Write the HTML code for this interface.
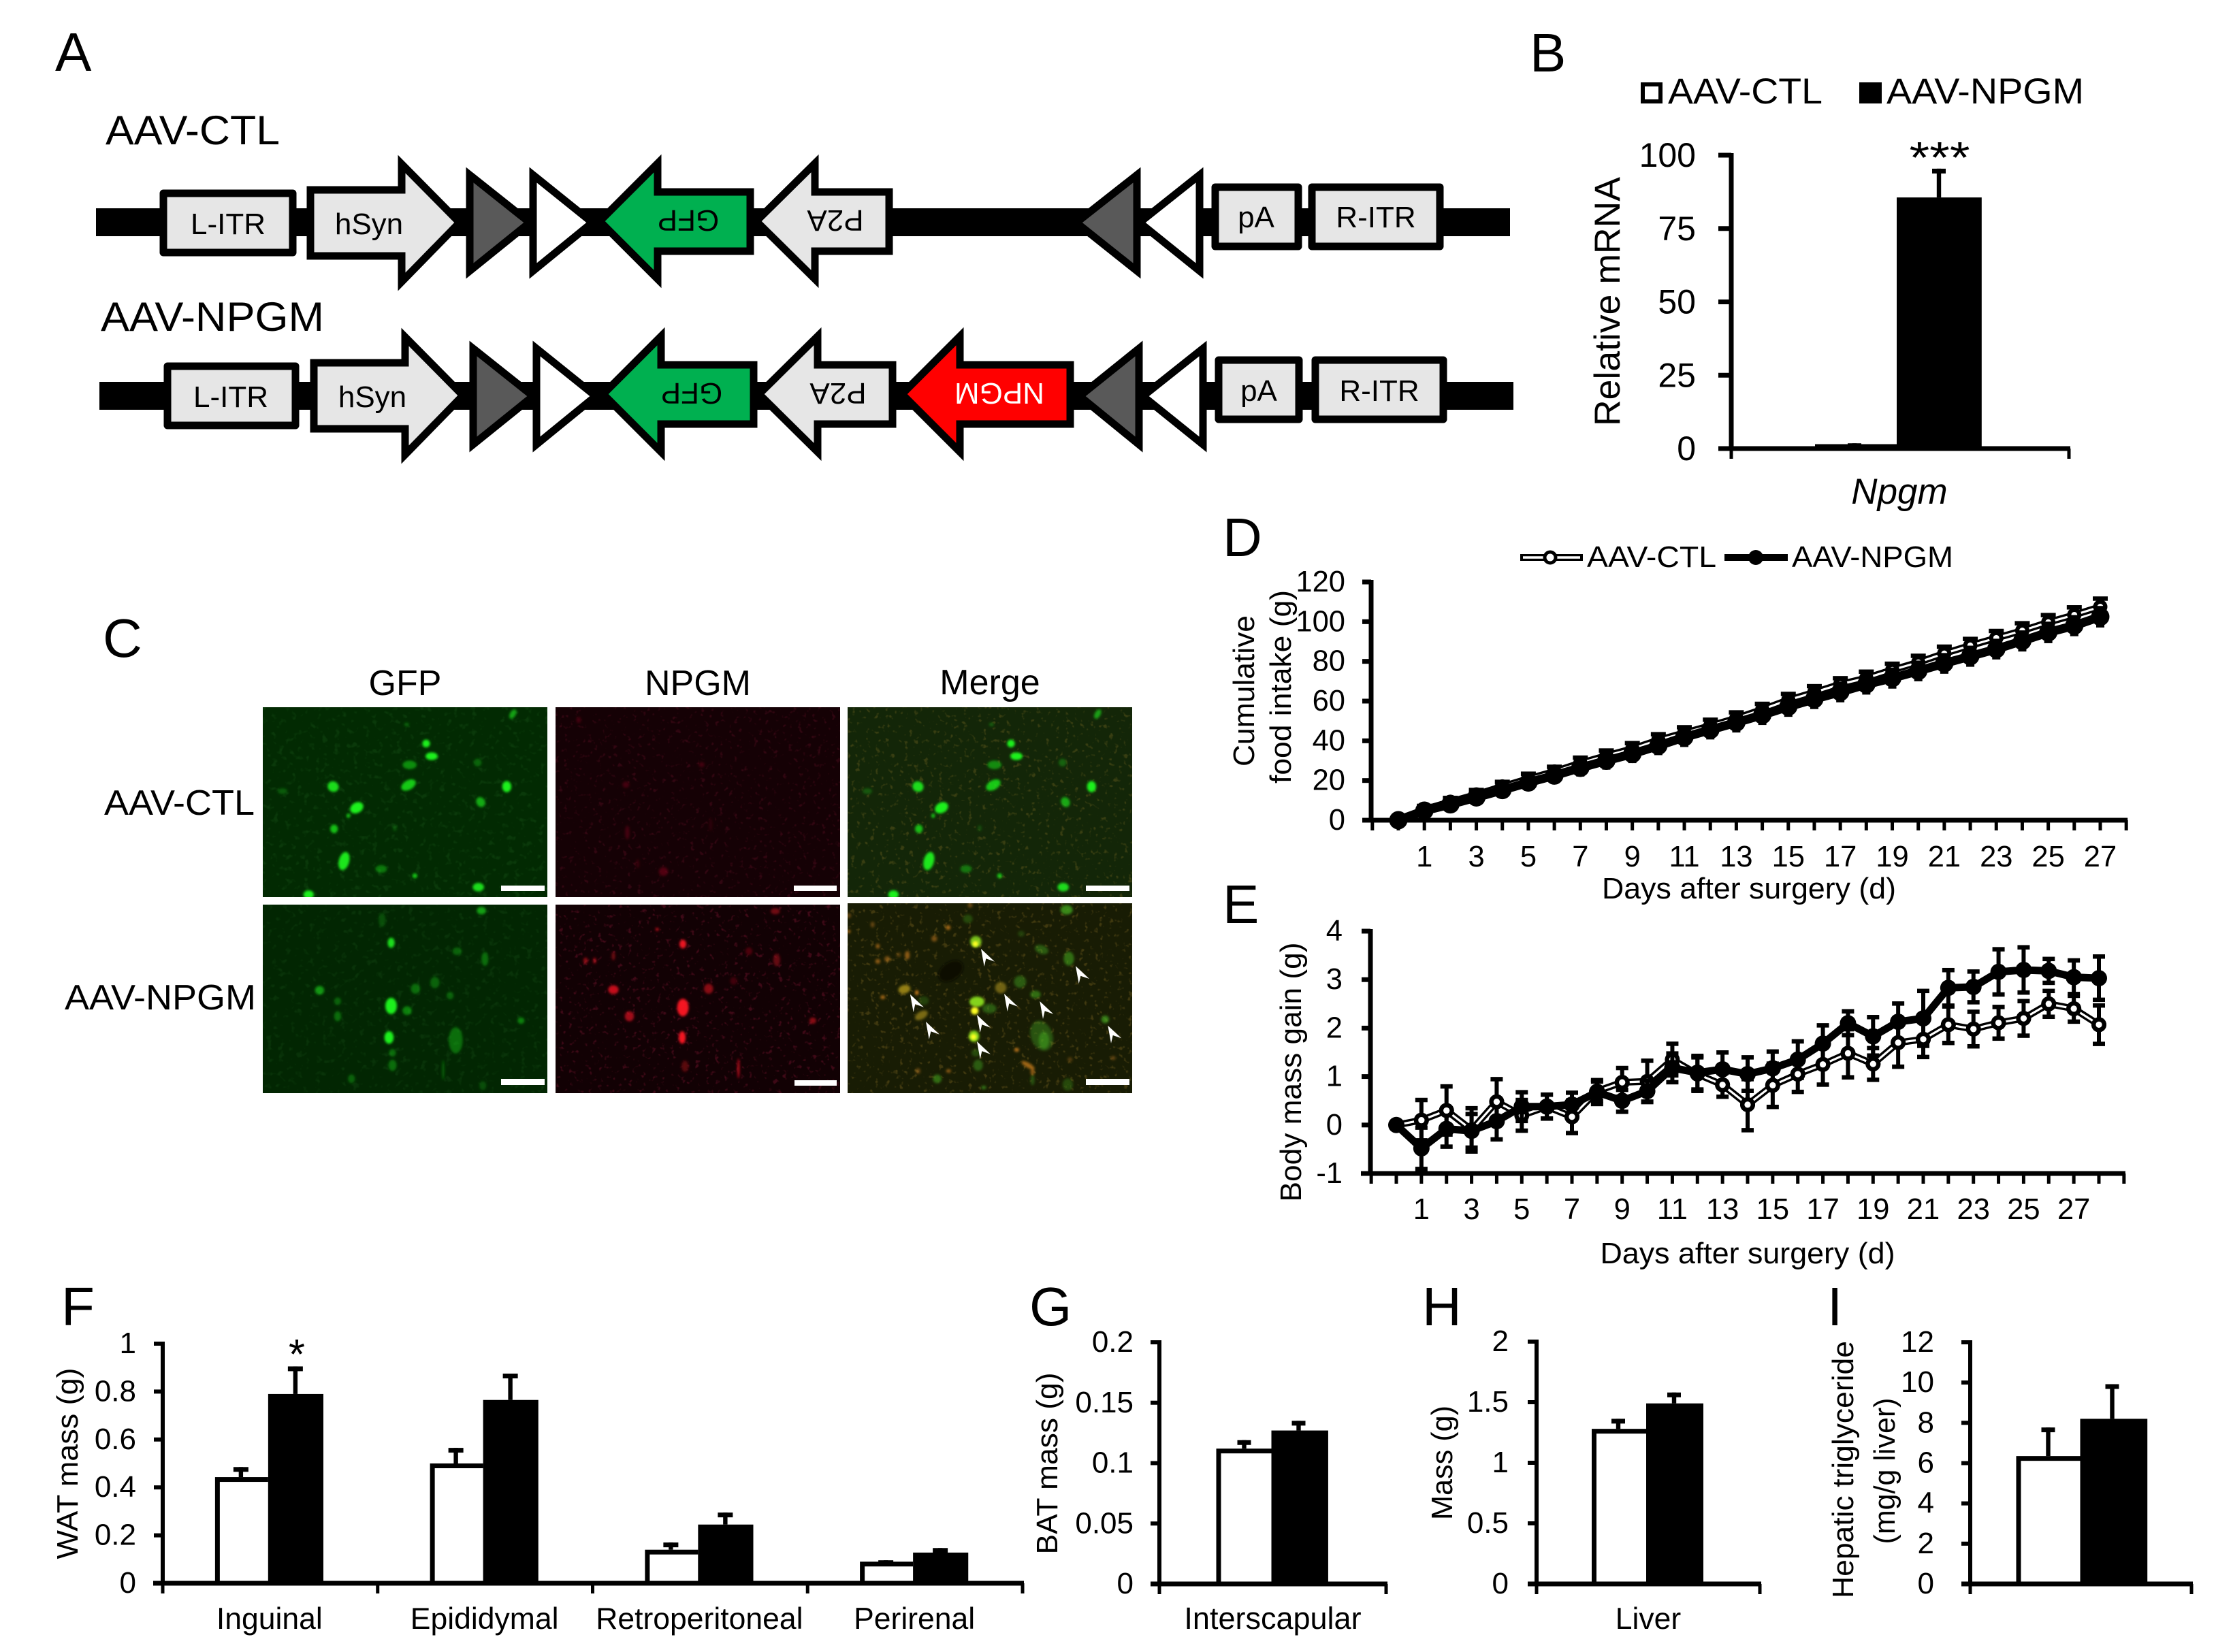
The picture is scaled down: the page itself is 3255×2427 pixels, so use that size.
<!DOCTYPE html>
<html lang="en">
<head>
<meta charset="utf-8">
<title>AAV-NPGM figure</title>
<style>
html,body{margin:0;padding:0;background:#fff;width:3255px;height:2427px;overflow:hidden}
svg{display:block}
text{font-family:"Liberation Sans",Arial,sans-serif;fill:#000}
.letter{font-size:80px}
.box{fill:#e6e6e6;stroke:#000;stroke-width:11;stroke-linejoin:round}
.shape{stroke:#000;stroke-width:11;stroke-linejoin:miter;stroke-miterlimit:12}
.gene{font-size:44px;text-anchor:middle}
</style>
</head>
<body>
<svg id="fig" xmlns="http://www.w3.org/2000/svg" width="3255" height="2427" viewBox="0 0 3255 2427">
<defs>
  <filter id="soft" x="-60%" y="-60%" width="220%" height="220%"><feGaussianBlur stdDeviation="1.8"/></filter>
  <filter id="specks-orange" x="0" y="0" width="100%" height="100%"><feTurbulence type="fractalNoise" baseFrequency="0.14" numOctaves="2" seed="3"/><feColorMatrix values="0 0 0 0 .75  0 0 0 0 .42  0 0 0 0 .05  6 0 0 0 -3.7"/></filter>
  <filter id="specks-red" x="0" y="0" width="100%" height="100%"><feTurbulence type="fractalNoise" baseFrequency="0.14" numOctaves="2" seed="7"/><feColorMatrix values="0 0 0 0 .7  0 0 0 0 .02  0 0 0 0 .1  6 0 0 0 -3.7"/></filter>
  <filter id="specks-green" x="0" y="0" width="100%" height="100%"><feTurbulence type="fractalNoise" baseFrequency="0.11" numOctaves="2" seed="11"/><feColorMatrix values="0 0 0 0 .1  0 0 0 0 .6  0 0 0 0 .1  5 0 0 0 -2.9"/></filter>
</defs>

<!-- panel letters -->
<g>
  <text class="letter" x="81" y="104">A</text>
  <text class="letter" x="2247" y="105">B</text>
  <text class="letter" x="151" y="965">C</text>
  <text class="letter" x="1796" y="817">D</text>
  <text class="letter" x="1796" y="1356">E</text>
  <text class="letter" x="90" y="1947">F</text>
  <text class="letter" x="1512" y="1947">G</text>
  <text class="letter" x="2089" y="1947">H</text>
  <text class="letter" x="2684" y="1947">I</text>
</g>

<!-- panel A -->
<g>
  <text x="155" y="212" font-size="60" textLength="256" lengthAdjust="spacingAndGlyphs">AAV-CTL</text>
  <rect x="141" y="306" width="2077" height="41" fill="#000"/>
  <rect class="box" x="240" y="284" width="190" height="87"/>
  <text class="gene" x="335" y="344">L-ITR</text>
  <polygon class="shape" fill="#e6e6e6" points="456,279 590,279 590,241 675,327 590,414 590,376 456,376"/>
  <text class="gene" x="542" y="344">hSyn</text>
  <polygon class="shape" fill="#595959" points="690,257 778,327 690,398"/>
  <polygon class="shape" fill="#fff" points="783,257 870,327 783,398"/>
  <polygon class="shape" fill="#00b050" points="881,325 966,240 966,282 1102,282 1102,369 966,369 966,410"/>
  <text class="gene" x="1011" y="339" transform="rotate(180 1011 324)">GFP</text>
  <polygon class="shape" fill="#e6e6e6" points="1111,325 1197,240 1197,282 1306,282 1306,369 1197,369 1197,410"/>
  <text class="gene" x="1227" y="339" transform="rotate(180 1227 324)">P2A</text>
  <polygon class="shape" fill="#595959" points="1670,257 1581,327 1670,398"/>
  <polygon class="shape" fill="#fff" points="1762,257 1674,327 1762,398"/>
  <rect class="box" x="1785" y="275" width="122" height="87"/>
  <text class="gene" x="1845" y="334">pA</text>
  <rect class="box" x="1927" y="275" width="188" height="87"/>
  <text class="gene" x="2021" y="334">R-ITR</text>
</g>
<g>
  <text x="148" y="486" font-size="60" textLength="328" lengthAdjust="spacingAndGlyphs">AAV-NPGM</text>
  <rect x="146" y="561" width="2077" height="41" fill="#000"/>
  <rect class="box" x="246" y="538" width="188" height="87"/>
  <text class="gene" x="339" y="598">L-ITR</text>
  <polygon class="shape" fill="#e6e6e6" points="461,533 595,533 595,495 680,581 595,668 595,630 461,630"/>
  <text class="gene" x="547" y="598">hSyn</text>
  <polygon class="shape" fill="#595959" points="695,512 783,582 695,653"/>
  <polygon class="shape" fill="#fff" points="788,512 875,582 788,653"/>
  <polygon class="shape" fill="#00b050" points="886,579 971,494 971,536 1107,536 1107,623 971,623 971,664"/>
  <text class="gene" x="1016" y="593" transform="rotate(180 1016 578)">GFP</text>
  <polygon class="shape" fill="#e6e6e6" points="1115,579 1201,494 1201,536 1311,536 1311,623 1201,623 1201,664"/>
  <text class="gene" x="1231" y="593" transform="rotate(180 1231 578)">P2A</text>
  <polygon class="shape" fill="#ff0000" points="1325,579 1410,494 1410,536 1572,536 1572,623 1410,623 1410,664"/>
  <text class="gene" style="fill:#fff" x="1468" y="593" transform="rotate(180 1468 578)">NPGM</text>
  <polygon class="shape" fill="#595959" points="1673,512 1586,582 1673,653"/>
  <polygon class="shape" fill="#fff" points="1767,512 1679,582 1767,653"/>
  <rect class="box" x="1790" y="529" width="118" height="87"/>
  <text class="gene" x="1849" y="589">pA</text>
  <rect class="box" x="1932" y="529" width="188" height="87"/>
  <text class="gene" x="2026" y="589">R-ITR</text>
</g>

<!-- panel C -->
<g id="panelC">
  <text x="595" y="1021" font-size="52" text-anchor="middle">GFP</text>
  <text x="1025" y="1021" font-size="52" text-anchor="middle">NPGM</text>
  <text x="1454" y="1020" font-size="52" text-anchor="middle">Merge</text>
  <text x="153" y="1197" font-size="52" textLength="221" lengthAdjust="spacingAndGlyphs">AAV-CTL</text>
  <text x="95" y="1483" font-size="52" textLength="281" lengthAdjust="spacingAndGlyphs">AAV-NPGM</text>
</g>

<!-- panel B -->
<g id="panelB">
  <rect x="2413" y="124" width="26" height="25" fill="#fff" stroke="#000" stroke-width="6"/>
  <text x="2450" y="152" font-size="53" textLength="227" lengthAdjust="spacingAndGlyphs">AAV-CTL</text>
  <rect x="2731" y="121" width="33" height="31" fill="#000"/>
  <text x="2771" y="152" font-size="53" textLength="290" lengthAdjust="spacingAndGlyphs">AAV-NPGM</text>
</g>

<!-- panel D -->
<g id="panelD">
  <line x1="2233" y1="819" x2="2325" y2="819" stroke="#000" stroke-width="10"/>
  <line x1="2237" y1="819" x2="2321" y2="819" stroke="#fff" stroke-width="3.5"/>
  <circle cx="2277" cy="819" r="8" fill="#fff" stroke="#000" stroke-width="5"/>
  <text x="2331" y="833" font-size="44" textLength="190" lengthAdjust="spacingAndGlyphs">AAV-CTL</text>
  <line x1="2533" y1="819" x2="2626" y2="819" stroke="#000" stroke-width="10"/>
  <circle cx="2579" cy="819" r="11" fill="#000"/>
  <text x="2632" y="833" font-size="44" textLength="237" lengthAdjust="spacingAndGlyphs">AAV-NPGM</text>
</g>
<g id="panelE"></g>
<g id="panelF"></g>
<g id="panelG"></g>
<g id="panelH"></g>
<g id="panelI"></g>
</svg>

<script>
/* ---------- chart data ---------- */
const bCategories = ['Npgm'];
const bTicks = [0, 25, 50, 75, 100];
const bCtl = [1.5];
const bCtlErr = [0.3];
const bNpgm = [85.6];
const bNpgmErr = [9.8];

const dDays = [0,1,2,3,4,5,6,7,8,9,10,11,12,13,14,15,16,17,18,19,20,21,22,23,24,25,26,27];
const dTicks = [0,20,40,60,80,100,120];
const dTickLabels = [1,3,5,7,9,11,13,15,17,19,21,23,25,27];
const dCtl = [0,5.5,9.3,13,17,20.9,24.5,28.8,32.5,36,40.4,44,47.6,51.4,55.8,60.6,64.4,68.5,71.6,75.7,79.5,84,88,91.8,95.5,99.7,103.4,107.5];
const dCtlErr = [0.4,1.8,2,2.3,2.4,2.6,2.5,2.8,2.7,2.9,3,2.9,3.1,3,2.9,3.1,3.2,3.1,3.3,3.2,3.4,3.5,3.4,3.6,3.8,3.7,3.9,4.2];
const dNpgm = [0,4.8,8,11.5,15.2,19,22.5,26.4,30,33.4,37.5,41.8,45.5,49.2,53,57.2,61,64.6,68.4,71.6,75.2,79,82.6,86.2,90.3,94.6,98,102.5];
const dNpgmErr = [0.5,2.3,2.5,2.9,3,3.2,3.1,3.4,3.5,3.6,3.7,3.9,3.8,4,4,4.1,4,4.2,4.1,4.3,4.2,4.2,4.3,4.2,4.3,4.4,4.3,4.4];

const eDays = [0,1,2,3,4,5,6,7,8,9,10,11,12,13,14,15,16,17,18,19,20,21,22,23,24,25,26,27,28];
const eTicks = [-1,0,1,2,3,4];
const eTickLabels = [1,3,5,7,9,11,13,15,17,19,21,23,25,27];
const eCtl = [0,0.1,0.3,-0.1,0.48,0.2,0.38,0.17,0.7,0.88,0.9,1.35,1.05,0.83,0.42,0.82,1.05,1.25,1.48,1.26,1.7,1.77,2.07,1.98,2.11,2.2,2.5,2.4,2.07];
const eCtlErr = [0.05,0.42,0.5,0.45,0.47,0.32,0.25,0.34,0.2,0.3,0.43,0.33,0.35,0.25,0.53,0.45,0.37,0.42,0.5,0.33,0.5,0.37,0.38,0.36,0.33,0.36,0.27,0.27,0.4];
const eNpgm = [0,-0.48,-0.08,-0.12,0.08,0.38,0.38,0.42,0.68,0.5,0.7,1.18,1.08,1.15,1.05,1.17,1.35,1.68,2.1,1.83,2.13,2.2,2.83,2.85,3.16,3.2,3.18,3.05,3.03];
const eNpgmErr = [0.05,0.43,0.37,0.35,0.38,0.3,0.25,0.25,0.25,0.23,0.22,0.3,0.35,0.35,0.35,0.35,0.38,0.38,0.25,0.4,0.38,0.57,0.37,0.32,0.47,0.47,0.25,0.35,0.45];

const fCategories = ['Inguinal','Epididymal','Retroperitoneal','Perirenal'];
const fTicks = [0,0.2,0.4,0.6,0.8,1];
const fCtl = [0.443,0.5,0.14,0.09];
const fCtlErr = [0.042,0.065,0.03,0.006];
const fNpgm = [0.79,0.765,0.245,0.128];
const fNpgmErr = [0.115,0.11,0.05,0.019];

const gCategories = ['Interscapular'];
const gTicks = [0,0.05,0.1,0.15,0.2];
const gCtl = [0.112];
const gCtlErr = [0.007];
const gNpgm = [0.127];
const gNpgmErr = [0.008];

const hCategories = ['Liver'];
const hTicks = [0,0.5,1,1.5,2];
const hCtl = [1.28];
const hCtlErr = [0.083];
const hNpgm = [1.49];
const hNpgmErr = [0.09];

const iCategories = [''];
const iTicks = [0,2,4,6,8,10,12];
const iCtl = [6.35];
const iCtlErr = [1.42];
const iNpgm = [8.2];
const iNpgmErr = [1.72];

/* ---------- helpers ---------- */
const NS = 'http://www.w3.org/2000/svg';
function mk(parent, tag, attrs, name) {
  const el = document.createElementNS(NS, tag);
  for (const k in attrs) el.setAttribute(k, attrs[k]);
  
  
  parent.appendChild(el);
  return el;
}
function txt(parent, x, y, s, size, anchor, name, opts) {
  opts = opts || {};
  const a = {x: x, y: y, 'font-size': size, 'text-anchor': anchor};
  if (opts.len) { a.textLength = opts.len; a.lengthAdjust = 'spacingAndGlyphs'; }
  if (opts.rot) a.transform = 'rotate(-90 ' + x + ' ' + y + ')';
  if (opts.italic) a['font-style'] = 'italic';
  const el = mk(parent, 'text', a, name);
  el.textContent = s;
  return el;
}
function rectEdges(parent, x1, y1, x2, y2, fill, name) {
  return mk(parent, 'rect', {x: Math.min(x1, x2), y: Math.min(y1, y2), width: Math.abs(x2 - x1), height: Math.abs(y2 - y1), fill: fill}, name);
}
function linear(d0, d1, p0, p1) { return v => p0 + (v - d0) * (p1 - p0) / (d1 - d0); }

function yAxis(g, a, ticks) {
  const y = a.y;
  rectEdges(g, a.left - a.lw / 2, y(ticks[ticks.length - 1]) - 3, a.left + a.lw / 2, a.base + 2, '#000', 'y-axis-line');
  ticks.forEach(t => {
    rectEdges(g, a.left - a.tickLen, y(t) - a.lw / 2, a.left, y(t) + a.lw / 2, '#000', 'y-tick-' + t);
    txt(g, a.labelX, y(t) + a.labelDy, String(t), a.font, 'end', 'y-tick-label-' + t);
  });
}
function errorBar(g, x, yMean, yTop, capW, name) {
  rectEdges(g, x - 3.2, yTop, x + 3.2, yMean, '#000', name + '-stem');
  rectEdges(g, x - capW / 2, yTop, x + capW / 2, yTop + 7, '#000', name + '-cap');
}

/* ---------- bar panels ---------- */
function barPanel(id, a, cats, ticks, ctl, ctlErr, npgm, npgmErr) {
  const g = document.getElementById(id);
  yAxis(g, a, ticks);
  const band = (a.right - a.left) / cats.length;
  const cx = i => a.left + band * (i + 0.5) + (a.shift || 0);
  const y = a.y;
  cats.forEach((c, i) => {
    const xm = cx(i);
    const key = c ? c.toLowerCase() : 'group';
    errorBar(g, xm - a.errOff, y(ctl[i]), y(ctl[i] + ctlErr[i]), a.cap, 'error-ctl-' + key);
    errorBar(g, xm + a.errOff, y(npgm[i]), y(npgm[i] + npgmErr[i]), a.cap, 'error-npgm-' + key);
    rectEdges(g, xm - a.barW, y(ctl[i]), xm, a.base, '#000', 'bar-ctl-outline-' + key);
    if (a.base - y(ctl[i]) > 9) rectEdges(g, xm - a.barW + 7, y(ctl[i]) + 7, xm, a.base, '#fff', 'bar-ctl-' + key);
    rectEdges(g, xm, y(npgm[i]), xm + a.barW * a.blackRatio, a.base, '#000', 'bar-npgm-' + key);
    if (c) txt(g, xm + (a.catShift || 0), a.catY, c, a.catFont, 'middle', 'category-label-' + key, {italic: a.catItalic});
  });
  rectEdges(g, a.axisL, a.base - 3.5, a.right + 2, a.base + 3.5, '#000', 'x-axis-line');
  for (let i = 0; i <= cats.length; i++) {
    const x = a.left + band * i;
    rectEdges(g, x - 2.5, a.base, x + 2.5, a.base + 15, '#000', 'x-tick-' + i);
  }
}

barPanel('panelB', {left: 2543, right: 3039, base: 659, y: linear(0, 100, 659, 228), lw: 7, tickLen: 19, labelX: 2491, labelDy: 17, font: 50, barW: 120, blackRatio: 1.04, cap: 20, errOff: 62, axisL: 2524, catY: 740, catFont: 53, catItalic: true, shift: -5, catShift: 4}, bCategories, bTicks, bCtl, bCtlErr, bNpgm, bNpgmErr);
barPanel('panelF', {left: 239, right: 1502, base: 2326, y: linear(0, 1, 2326, 1974), lw: 6, tickLen: 13, labelX: 200, labelDy: 14, font: 44, barW: 78, blackRatio: 1.04, cap: 22, errOff: 40, axisL: 225, catY: 2393, catFont: 44.5, shift: -3, catShift: 2}, fCategories, fTicks, fCtl, fCtlErr, fNpgm, fNpgmErr);
barPanel('panelG', {left: 1703, right: 2036, base: 2327, y: linear(0, 0.2, 2327, 1972), lw: 6, tickLen: 13, labelX: 1665, labelDy: 14, font: 44, barW: 81, blackRatio: 1.03, cap: 20, errOff: 40, axisL: 1690, catY: 2393, catFont: 45, shift: -2, catShift: 2}, gCategories, gTicks, gCtl, gCtlErr, gNpgm, gNpgmErr);
barPanel('panelH', {left: 2257, right: 2585, base: 2327, y: linear(0, 2, 2327, 1971), lw: 6, tickLen: 13, labelX: 2216, labelDy: 14, font: 44, barW: 80, blackRatio: 1.05, cap: 20, errOff: 41, axisL: 2244, catY: 2393, catFont: 44.5, shift: -3, catShift: 3}, hCategories, hTicks, hCtl, hCtlErr, hNpgm, hNpgmErr);
barPanel('panelI', {left: 2894, right: 3219, base: 2327, y: linear(0, 12, 2327, 1972), lw: 6, tickLen: 13, labelX: 2841, labelDy: 14, font: 44, barW: 94, blackRatio: 1.05, cap: 20, errOff: 47, axisL: 2881, catY: 2393, catFont: 44, shift: -1}, iCategories, iTicks, iCtl, iCtlErr, iNpgm, iNpgmErr);

const bG = document.getElementById('panelB');
txt(bG, 2379, 443, 'Relative mRNA', 53, 'middle', 'y-axis-title', {rot: true, len: 366});
txt(bG, 2849, 254, '***', 65, 'middle', 'significance-stars', {len: 89});
const fG = document.getElementById('panelF');
txt(fG, 114, 2150, 'WAT mass (g)', 44, 'middle', 'y-axis-title', {rot: true, len: 281});
txt(fG, 436, 2011, '*', 62, 'middle', 'significance-star');
const gG = document.getElementById('panelG');
txt(gG, 1553, 2150, 'BAT mass (g)', 44, 'middle', 'y-axis-title', {rot: true, len: 267});
const hG = document.getElementById('panelH');
txt(hG, 2133, 2149, 'Mass (g)', 44, 'middle', 'y-axis-title', {rot: true, len: 168});
const iG = document.getElementById('panelI');
txt(iG, 2722, 2159, 'Hepatic triglyceride', 44, 'middle', 'y-axis-title-line-1', {rot: true, len: 378});
txt(iG, 2783, 2161, '(mg/g liver)', 44, 'middle', 'y-axis-title-line-2', {rot: true, len: 215});

/* ---------- line panels ---------- */
function linePanel(id, a, days, ticks, tickLabels, ctl, ctlErr, npgm, npgmErr) {
  const g = document.getElementById(id);
  const y = a.y;
  const x = linear(days[0], days[days.length - 1], a.x0, a.x1);
  const step = x(days[1]) - x(days[0]);
  yAxis(g, a, ticks);
  rectEdges(g, a.axisL, a.base - 3.5, x(days[days.length - 1]) + step * a.rightTicks + 2, a.base + 3.5, '#000', 'x-axis-line');
  for (let i = -1; i <= days.length - 1 + a.rightTicks; i++) {
    const tx = x(days[0]) + i * step;
    rectEdges(g, tx - 2.5, a.base, tx + 2.5, a.base + 15, '#000', 'x-tick-' + i);
  }
  tickLabels.forEach(d => txt(g, x(d), a.catY, String(d), a.font, 'middle', 'x-tick-label-' + d));
  const drawErr = (vals, errs, key, cap) => vals.forEach((v, i) => {
    const px = x(days[i]);
    rectEdges(g, px - 3, y(v + errs[i]), px + 3, y(v - errs[i]), '#000', 'error-stem-' + key + '-' + days[i]);
    if (cap > 0) {
      rectEdges(g, px - cap / 2, y(v + errs[i]) - 3, px + cap / 2, y(v + errs[i]) + 3.5, '#000', 'error-cap-high-' + key + '-' + days[i]);
      rectEdges(g, px - cap / 2, y(v - errs[i]) - 3.5, px + cap / 2, y(v - errs[i]) + 3, '#000', 'error-cap-low-' + key + '-' + days[i]);
    }
  });
  const path = vals => vals.map((v, i) => (i ? 'L' : 'M') + x(days[i]).toFixed(1) + ' ' + y(v).toFixed(1)).join(' ');
  drawErr(ctl, ctlErr, 'ctl', a.cap);
  mk(g, 'path', {d: path(ctl), fill: 'none', stroke: '#000', 'stroke-width': 10, 'stroke-linejoin': 'round'}, 'line-ctl-outline');
  mk(g, 'path', {d: path(ctl), fill: 'none', stroke: '#fff', 'stroke-width': 3.2, 'stroke-linejoin': 'round'}, 'line-ctl');
  ctl.forEach((v, i) => {
    mk(g, 'circle', {cx: x(days[i]), cy: y(v), r: a.r, fill: '#000'}, 'point-ctl-outline-' + days[i]);
    mk(g, 'circle', {cx: x(days[i]), cy: y(v), r: a.r * 0.42, fill: '#fff'}, 'point-ctl-' + days[i]);
  });
  drawErr(npgm, npgmErr, 'npgm', a.capN);
  mk(g, 'path', {d: path(npgm), fill: 'none', stroke: '#000', 'stroke-width': a.lineN, 'stroke-linejoin': 'round'}, 'line-npgm');
  npgm.forEach((v, i) => {
    mk(g, 'circle', {cx: x(days[i]), cy: y(v), r: a.rN, fill: '#000'}, 'point-npgm-' + days[i]);
  });
  /* CTL markers that sit clear of the black series stay visible */
  ctl.forEach((v, i) => {
    if (Math.abs(y(v) - y(npgm[i])) > a.rN * a.clear) {
      mk(g, 'circle', {cx: x(days[i]), cy: y(v), r: a.r, fill: '#000'}, 'point-ctl-top-outline-' + days[i]);
      mk(g, 'circle', {cx: x(days[i]), cy: y(v), r: a.r * 0.42, fill: '#fff'}, 'point-ctl-top-' + days[i]);
    }
  });
}
linePanel('panelD', {left: 2014, x0: 2054, x1: 3085, rightTicks: 1, base: 1205, y: linear(0, 120, 1205, 855), lw: 7, tickLen: 13, labelX: 1976, labelDy: 14, font: 43.5, axisL: 2001, catY: 1273, cap: 22, capN: 12, r: 10.5, rN: 13.5, lineN: 13, clear: 1.35}, dDays, dTicks, dTickLabels, dCtl, dCtlErr, dNpgm, dNpgmErr);
linePanel('panelE', {left: 2013, x0: 2051, x1: 3083, rightTicks: 1, base: 1724, y: linear(-1, 4, 1724, 1368), lw: 7, tickLen: 13, labelX: 1972, labelDy: 14, font: 43.5, axisL: 1999, catY: 1791, cap: 18, capN: 18, r: 11, rN: 12, lineN: 11, clear: 1.25}, eDays, eTicks, eTickLabels, eCtl, eCtlErr, eNpgm, eNpgmErr);
const dG = document.getElementById('panelD');
txt(dG, 1842, 1015, 'Cumulative', 44, 'middle', 'y-axis-title-line-1', {rot: true, len: 222});
txt(dG, 1896, 1009, 'food intake (g)', 44, 'middle', 'y-axis-title-line-2', {rot: true, len: 284});
txt(dG, 2569, 1320, 'Days after surgery (d)', 44, 'middle', 'x-axis-title', {len: 432});
const eG = document.getElementById('panelE');
txt(eG, 1911, 1575, 'Body mass gain (g)', 44, 'middle', 'y-axis-title', {rot: true, len: 381});
txt(eG, 2567, 1856, 'Days after surgery (d)', 44, 'middle', 'x-axis-title', {len: 433});

/* ---------- micrographs ---------- */
/* coordinates below are read from 3x crops of each image: [x, y, rx, ry, opacity, rotation] */
const cellsGfpTop = [[738,172,14,14,1,0],[762,228,24,14,1,0],[665,266,28,16,.5,0],[328,362,22,20,.9,30],[660,355,32,18,.8,-30],[432,455,28,20,1,-30],[1093,362,17,22,1,0],[978,430,16,20,.65,-30],[332,548,14,16,.75,0],[376,690,20,38,.95,15],[540,725,22,14,.4,0],[688,755,8,8,.8,0],[968,805,22,16,.9,0],[220,838,20,16,1,0],[1120,42,10,20,.6,30],[965,256,14,14,.3,0],[105,382,18,10,.25,0],[652,88,8,5,.3,0],[395,490,5,7,.8,0],[600,545,6,10,.2,0]];
const mergeGreenBottom = [[980,35,24,18,.6,0],[545,75,18,16,.25,0],[870,210,28,16,.35,20],[990,250,20,28,.45,0],[775,352,24,24,.35,0],[843,408,20,14,.45,0],[350,435,20,16,.2,0],[640,470,28,18,.35,0],[1150,518,14,14,.55,0],[870,590,45,65,.3,-20],[880,610,20,35,.35,0],[580,665,16,14,.25,0],[590,720,18,22,.35,0],[410,780,16,16,.45,0],[985,805,20,24,.25,0],[830,785,6,20,.3,0],[780,140,12,10,.2,0],[615,818,8,5,.5,0]];
const mergeLimeBottom = [[580,175,22,22,.8,0],[585,440,30,20,.9,0],[572,592,20,22,.9,0]];
const mergeYellowBottom = [[578,185,10,10,1,0],[575,480,14,14,1,0],[570,595,10,10,1,0]];
const mergeOliveBottom = [[265,385,24,16,.7,-15],[690,378,22,22,.5,0],[340,500,28,14,.55,-30]];
const mergeOrangeBottom = [[397,162,10,10,.5,0],[190,252,10,10,.5,0],[278,235,8,16,.6,0],[148,262,8,8,.6,0],[148,195,6,8,.6,0],[458,113,8,8,.7,0],[320,400,5,8,.9,0],[170,420,8,6,.7,0],[760,652,8,6,.8,0],[810,720,30,8,.7,30],[830,750,6,12,.6,0],[460,745,8,5,.6,0],[325,745,8,10,.4,0],[20,130,5,5,.7,0],[125,100,6,10,.4,0],[1185,688,8,6,.4,0],[995,695,8,8,.3,0],[555,15,8,8,.4,0],[240,233,8,8,.3,0],[20,60,8,8,.4,0]];
const arrowTips = [[603,207],[1020,283],[291,408],[705,405],[862,438],[585,498],[360,528],[1162,545],[585,615]];
const cellsRedTop = [[805,660,4,20,.2],[857,785,8,12,.25],[803,507,6,8,.2],[912,443,5,6,.2],[820,760,3,12,.15],[925,635,3,18,.1],[735,300,4,8,.2]];
const cellsGfpBottom = [[595,910,8,10,.6],[465,1013,6,14,.9],[600,1065,6,20,.35],[560,1040,8,10,.3],[362,1165,8,12,.55],[500,1160,8,14,.35],[528,1140,8,16,.3],[465,1215,10,24,1],[488,1230,8,12,.45],[550,1182,6,10,.3],[388,1248,6,14,.35],[388,1200,6,10,.3],[652,1262,6,8,.45],[462,1316,8,18,1],[558,1325,12,40,.35],[467,1365,6,10,.35],[467,1405,7,16,.35],[408,1448,6,12,.3],[597,1470,6,12,.2],[452,940,6,20,.2],[540,1420,2,30,.3]];
const cellsRedBottom = [[885,1017,6,12,.9],[1020,1068,6,18,.35],[785,1163,9,12,.75],[922,1160,8,14,.5],[885,1220,10,26,.95],[808,1248,8,14,.6],[884,1316,6,18,.95],[1072,1262,6,8,.5],[1018,912,8,8,.4],[980,1040,6,10,.25],[745,1070,4,8,.5],[785,1055,3,12,.4],[758,1070,3,8,.5],[965,1415,2,30,.7],[888,1408,6,16,.3],[848,970,3,3,.7],[958,1135,6,10,.2]];

const panels = [
  {key:'gfp-ctl', x:386, y:1039, w:418, h:279, bg:'#022a02', tex:'specks-green', texOp:.09},
  {key:'npgm-ctl', x:816, y:1039, w:418, h:279, bg:'#150105', tex:'specks-red', texOp:.14},
  {key:'merge-ctl', x:1245, y:1039, w:418, h:279, bg:'#132608', tex:'specks-orange', texOp:.18},
  {key:'gfp-npgm', x:386, y:1329, w:418, h:277, bg:'#022602', tex:'specks-green', texOp:.08},
  {key:'npgm-npgm', x:816, y:1329, w:418, h:277, bg:'#120104', tex:'specks-red', texOp:.22},
  {key:'merge-npgm', x:1245, y:1327, w:418, h:279, bg:'#181c04', tex:'specks-orange', texOp:.2}
];
const cG = document.getElementById('panelC');
const svgDefs = document.querySelector('defs');
panels.forEach(p => {
  const cp = mk(svgDefs, 'clipPath', {id: 'clip-' + p.key}, 'clip-' + p.key);
  mk(cp, 'rect', {x: p.x, y: p.y, width: p.w, height: p.h}, 'clip-rect-' + p.key);
  mk(cG, 'rect', {x: p.x, y: p.y, width: p.w, height: p.h, fill: p.bg}, 'micrograph-' + p.key);
  mk(cG, 'rect', {x: p.x, y: p.y, width: p.w, height: p.h, filter: 'url(#' + p.tex + ')', opacity: p.texOp}, 'micrograph-texture-' + p.key);
});
function cropCells(key, list, color, ox, oy) {
  const g = mk(cG, 'g', {'clip-path': 'url(#clip-' + key + ')'}, 'cells-' + key);
  const inner = mk(g, 'g', {filter: 'url(#soft)'}, 'cells-blur-' + key);
  list.forEach((s, i) => {
    const cx = ox + s[0] / 3, cy = oy + s[1] / 3;
    mk(inner, 'ellipse', {cx: cx, cy: cy, rx: s[2] / 3 + 1, ry: s[3] / 3 + 1, fill: color, opacity: s[4], transform: 'rotate(' + s[5] + ' ' + cx + ' ' + cy + ')'}, 'cell-' + key + '-' + i);
  });
}
/* cells */
function wideCells(key, list, color) {
  const g = mk(cG, 'g', {'clip-path': 'url(#clip-' + key + ')'}, 'cells-' + key);
  const inner = mk(g, 'g', {filter: 'url(#soft)'}, 'cells-blur-' + key);
  list.forEach((s, i) => {
    mk(inner, 'ellipse', {cx: 100 + s[0] / 0.98, cy: 920 + s[1] / 2.178, rx: s[2] * 0.85, ry: s[3] / 2.178 + 1, fill: color, opacity: s[4]}, 'cell-' + key + '-' + i);
  });
}
cropCells('gfp-ctl', cellsGfpTop, '#1cf01c', 380, 1035);
wideCells('npgm-ctl', cellsRedTop, '#ff1430');
cropCells('merge-ctl', cellsGfpTop, '#1cf01c', 380 + 859, 1035);
wideCells('gfp-npgm', cellsGfpBottom, '#1cf01c');
wideCells('npgm-npgm', cellsRedBottom, '#ff1424');
cropCells('merge-npgm', mergeGreenBottom, '#50d028', 1240, 1325);
cropCells('merge-npgm', mergeOliveBottom, '#c8a820', 1240, 1325);
cropCells('merge-npgm', mergeLimeBottom, '#90e820', 1240, 1325);
cropCells('merge-npgm', mergeYellowBottom, '#ffff20', 1240, 1325);
cropCells('merge-npgm', mergeOrangeBottom, '#d88420', 1240, 1325);
mk(cG, 'ellipse', {cx: 1240 + 470 / 3, cy: 1325 + 305 / 3, rx: 20, ry: 13, fill: '#0c1000', transform: 'rotate(-35 ' + (1240 + 470 / 3) + ' ' + (1325 + 305 / 3) + ')', filter: 'url(#soft)'}, 'merge-dark-vessel');
arrowTips.forEach((t, i) => {
  const X = t[0], Y = t[1];
  const pts = [[X,Y],[X+60,Y+56],[X+22,Y+43],[X+14,Y+78]].map(q => (1240 + q[0] / 3).toFixed(1) + ',' + (1325 + q[1] / 3).toFixed(1)).join(' ');
  mk(cG, 'polygon', {points: pts, fill: '#fff'}, 'colocalization-arrow-' + i);
});
const scaleBars = [[736,1301,64,8],[1166,1301,63,8],[1595,1301,64,8],[736,1585,64,9],[1167,1587,62,8],[1595,1585,64,9]];
scaleBars.forEach((b, i) => {
  mk(cG, 'rect', {x: b[0], y: b[1], width: b[2], height: b[3], fill: '#fff'}, 'scale-bar-' + i);
});
</script>
</body>
</html>
